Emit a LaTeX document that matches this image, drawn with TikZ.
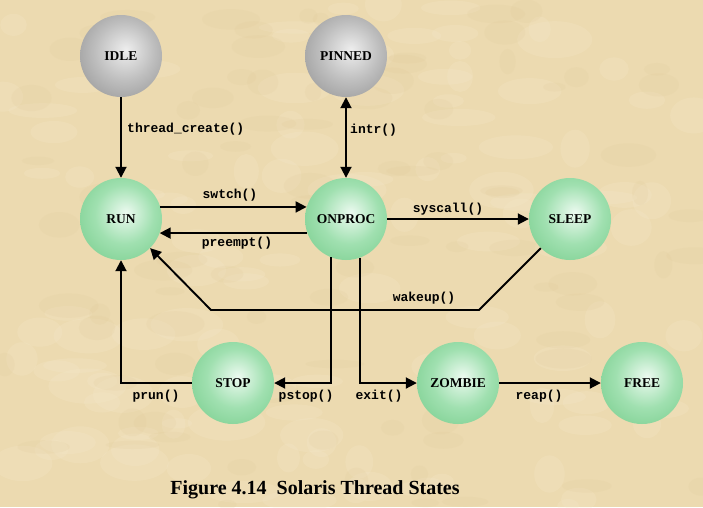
\documentclass[tikz,border=0pt]{standalone}
\usepackage{fontspec}
\setmainfont{Liberation Serif}
\setmonofont{Liberation Mono}
\usetikzlibrary{arrows.meta}
\definecolor{bgcol}{RGB}{236,218,176}
\definecolor{bglight}{RGB}{246,234,205}
\definecolor{bgdark}{RGB}{222,200,150}
\definecolor{gin}{RGB}{236,250,240}
\definecolor{gmid}{RGB}{160,224,176}
\definecolor{gout}{RGB}{88,190,112}
\definecolor{grin}{RGB}{238,238,238}
\definecolor{grmid}{RGB}{190,190,190}
\definecolor{grout}{RGB}{115,115,115}
\pgfdeclareradialshading{greenball}{\pgfpoint{3bp}{4bp}}{color(0bp)=(gin); color(18bp)=(gmid); color(50bp)=(gout); color(60bp)=(gout)}
\pgfdeclareradialshading{grayball}{\pgfpoint{3bp}{4bp}}{color(0bp)=(grin); color(18bp)=(grmid); color(50bp)=(grout); color(60bp)=(grout)}
\tikzset{
  state/.style={circle, minimum size=82pt, inner sep=0pt, shading=greenball,
    font=\fontsize{13.5}{15}\selectfont\bfseries},
  graystate/.style={state, shading=grayball},
  tip/.tip={Triangle[length=11pt,width=11pt]},
  conn/.style={line width=1.9pt, -tip},
  lbl/.style={font=\ttfamily\bfseries\fontsize{13}{15}\selectfont, inner sep=0pt}
}
\begin{document}
\begin{tikzpicture}[x=1pt,y=-1pt]
\useasboundingbox (0,0) rectangle (703,507);
\begin{scope}
\clip (0,0) rectangle (703,507);
\fill[bgcol] (0,0) rectangle (703,507);
\pgfmathsetseed{7}
\foreach \i in {1,...,120} {
  \pgfmathsetmacro{\px}{rnd*703}
  \pgfmathsetmacro{\py}{rnd*507}
  \pgfmathsetmacro{\rx}{10+rnd*30}
  \pgfmathsetmacro{\ry}{5+rnd*14}
  \fill[bglight, opacity=0.22] (\px,\py) ellipse [x radius=\rx, y radius=\ry];
}
\foreach \i in {1,...,90} {
  \pgfmathsetmacro{\px}{rnd*703}
  \pgfmathsetmacro{\py}{rnd*507}
  \pgfmathsetmacro{\rx}{8+rnd*22}
  \pgfmathsetmacro{\ry}{4+rnd*10}
  \fill[bgdark, opacity=0.15] (\px,\py) ellipse [x radius=\rx, y radius=\ry];
}
\end{scope}
% nodes
\node[graystate] (idle) at (121,56) {IDLE};
\node[graystate] (pinned) at (346,56) {PINNED};
\node[state] (run) at (121,219) {RUN};
\node[state] (onproc) at (346,219) {ONPROC};
\node[state] (sleep) at (570,219) {SLEEP};
\node[state] (stop) at (233,383) {STOP};
\node[state] (zombie) at (458,383) {ZOMBIE};
\node[state] (free) at (642,383) {FREE};
\coordinate (w1) at (479,310);
\coordinate (w2) at (211,310);
% connectors
\draw[conn] (idle.south) -- (run.north);
\draw[line width=1.9pt, tip-tip] (pinned.south) -- (onproc.north);
\draw[conn] (run.17) -- (onproc.163);
\draw[conn] (onproc.-160) -- (run.-20);
\draw[conn] (onproc) -- (sleep);
\draw[conn] (sleep.-135) -- (w1) -- (w2) -- (run.-45);
\draw[conn] (onproc.-111) |- (stop.east);
\draw[conn] (onproc.-70) |- (zombie.west);
\draw[conn] (stop.west) -| (run.south);
\draw[conn] (zombie) -- (free);
% labels
\node[lbl, anchor=west] (l1) at (127,129) {thread\_create()};
\node[lbl, anchor=west] (l2) at (350,130) {intr()};
\node[lbl] (l3) at (230,195) {swtch()};
\node[lbl] (l4) at (237,243) {preempt()};
\node[lbl] (l5) at (448,209) {syscall()};
\node[lbl] (l6) at (424,298) {wakeup()};
\node[lbl] (l7) at (156,396) {prun()};
\node[lbl] (l8) at (306,396) {pstop()};
\node[lbl] (l9) at (379,396) {exit()};
\node[lbl] (l10) at (539,396) {reap()};
\node[font=\fontsize{20}{24}\selectfont\bfseries] (cap) at (315,490) {Figure 4.14\ \ Solaris Thread States};
\end{tikzpicture}
\end{document}
